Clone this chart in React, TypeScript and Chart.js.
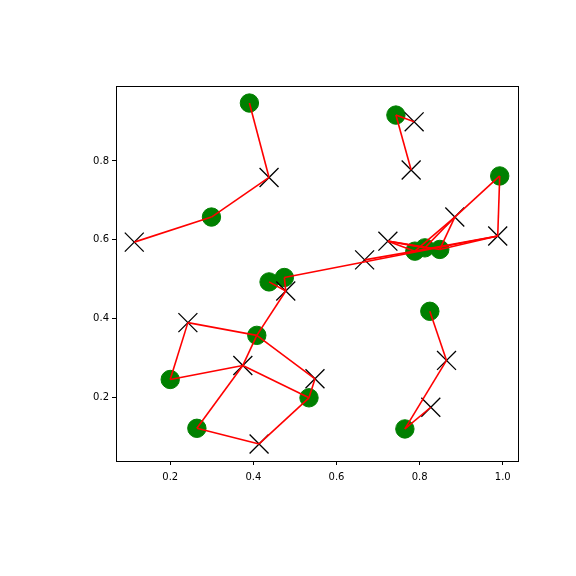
import React, { useEffect, useRef } from 'react';
import { Chart, registerables } from 'chart.js';

Chart.register(...registerables);

// Green circles (sources)
const greenX = [0.3905, 0.2992, 0.7430, 0.9928, 0.7886, 0.8126, 0.8486, 0.4378, 0.4746, 0.4083, 0.2000, 0.2641, 0.5339, 0.8246, 0.7646];
const greenY = [0.9468, 0.6577, 0.9163, 0.7619, 0.5712, 0.5796, 0.5756, 0.4932, 0.5044, 0.3577, 0.2458, 0.1220, 0.1993, 0.4187, 0.1204];

// Black crosses (targets)
const crossX = [0.4378, 0.1135, 0.7869, 0.7797, 0.8847, 0.9880, 0.7237, 0.6677, 0.4780, 0.2425, 0.3747, 0.5483, 0.4138, 0.8648, 0.8270];
const crossY = [0.7581, 0.5941, 0.8992, 0.7771, 0.6577, 0.6096, 0.5966, 0.5491, 0.4703, 0.3900, 0.2814, 0.2476, 0.0823, 0.2941, 0.1754];

// Red links: green index -> cross index
const edgeGreen = [0, 1, 1, 2, 2, 3, 3, 4, 5, 6, 4, 6, 8, 4, 5, 6, 4, 7, 8, 9, 9, 10, 9, 10, 11, 12, 9, 12, 11, 12, 13, 14, 14];
const edgeCross = [0, 0, 1, 2, 3, 4, 5, 4, 4, 4, 5, 5, 5, 6, 6, 6, 7, 8, 8, 8, 9, 9, 10, 10, 10, 10, 11, 11, 12, 12, 13, 13, 14];

const xTicks = [0.2, 0.4, 0.6, 0.8, 1.0];
const yTicks = [0.2, 0.4, 0.6, 0.8];

export default function App() {
  const ref = useRef<HTMLCanvasElement>(null);

  useEffect(() => {
    if (!ref.current) return;
    const allX = [...greenX, ...crossX];
    const allY = [...greenY, ...crossY];
    const xmin = Math.min(...allX), xmax = Math.max(...allX);
    const ymin = Math.min(...allY), ymax = Math.max(...allY);
    const xm = (xmax - xmin) * 0.05, ym = (ymax - ymin) * 0.05;

    const lineSets = edgeGreen.map((g, i) => ({
      data: [
        { x: greenX[g], y: greenY[g] },
        { x: crossX[edgeCross[i]], y: crossY[edgeCross[i]] },
      ],
      showLine: true,
      borderColor: '#ff0000',
      backgroundColor: '#ff0000',
      borderWidth: 1.6,
      pointRadius: 0,
      order: 0,
    }));

    const crossSet = {
      data: crossX.map((x, i) => ({ x, y: crossY[i] })),
      showLine: false,
      pointStyle: 'crossRot',
      pointRadius: 13.4,
      borderColor: '#000000',
      backgroundColor: '#000000',
      borderWidth: 1.3,
      order: 1,
    };

    const greenSet = {
      data: greenX.map((x, i) => ({ x, y: greenY[i] })),
      showLine: false,
      pointStyle: 'circle',
      pointRadius: 9.2,
      borderColor: '#008000',
      backgroundColor: '#008000',
      borderWidth: 1,
      order: 2,
    };

    const frame = {
      id: 'frame',
      afterDatasetsDraw(chart: any) {
        const { ctx, chartArea } = chart;
        ctx.save();
        ctx.strokeStyle = '#000';
        ctx.lineWidth = 1;
        ctx.strokeRect(
          Math.round(chartArea.left) + 0.5,
          Math.round(chartArea.top) + 0.5,
          Math.round(chartArea.right - chartArea.left),
          Math.round(chartArea.bottom - chartArea.top)
        );
        ctx.restore();
      },
    };

    const tickFont = { family: 'DejaVu Sans', size: 10 };

    const chart = new Chart(ref.current, {
      type: 'scatter',
      data: { datasets: [...lineSets, crossSet, greenSet] as any },
      options: {
        responsive: false,
        animation: false,
        devicePixelRatio: 1,
        layout: { padding: { left: 0, top: 86, right: 58, bottom: 0 } },
        plugins: { legend: { display: false }, tooltip: { enabled: false } },
        elements: { line: { tension: 0 } },
        scales: {
          x: {
            type: 'linear',
            min: xmin - xm,
            max: xmax + xm,
            afterBuildTicks: (s: any) => {
              s.ticks = xTicks.map((v) => ({ value: v }));
            },
            afterFit: (s: any) => {
              s.height = 115;
            },
            grid: { display: true, drawOnChartArea: false, drawTicks: true, tickLength: 4, color: '#000', lineWidth: 1 },
            border: { display: false },
            ticks: {
              color: '#000',
              font: tickFont,
              padding: 6,
              maxRotation: 0,
              autoSkip: false,
              callback: (v: any) => Number(v).toFixed(1),
            },
          },
          y: {
            type: 'linear',
            min: ymin - ym,
            max: ymax + ym,
            afterBuildTicks: (s: any) => {
              s.ticks = yTicks.map((v) => ({ value: v }));
            },
            afterFit: (s: any) => {
              s.width = 116;
            },
            grid: { display: true, drawOnChartArea: false, drawTicks: true, tickLength: 4, color: '#000', lineWidth: 1 },
            border: { display: false },
            ticks: {
              color: '#000',
              font: tickFont,
              padding: 3,
              autoSkip: false,
              callback: (v: any) => Number(v).toFixed(1),
            },
          },
        },
      } as any,
      plugins: [frame],
    });

    return () => chart.destroy();
  }, []);

  return (
    <div style={{ position: 'absolute', left: 0, top: 0, width: 576, height: 576, background: '#fff' }}>
      <canvas ref={ref} width={576} height={576} style={{ width: 576, height: 576, display: 'block' }} />
    </div>
  );
}
